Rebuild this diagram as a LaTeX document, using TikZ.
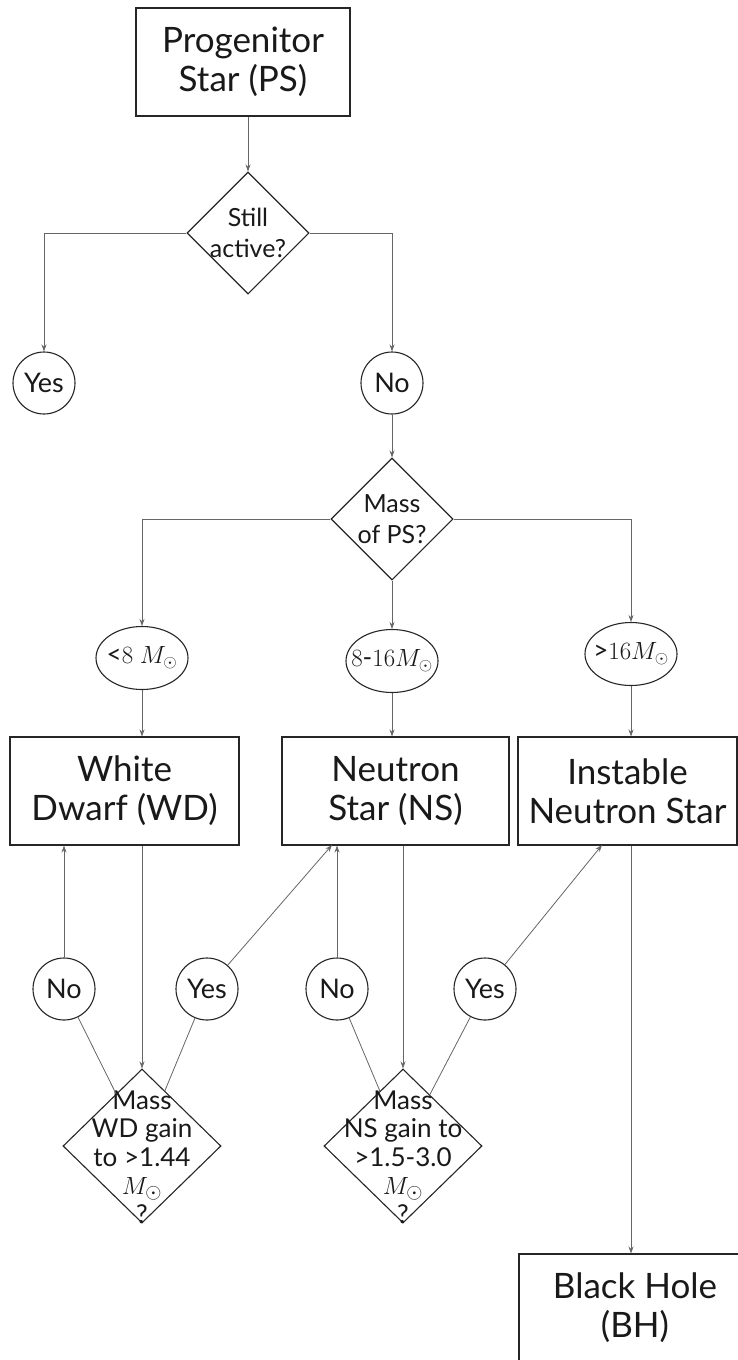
\documentclass[tikz,border=0pt]{standalone}
\usepackage{fontspec}
\setmainfont{Lato}
\usetikzlibrary{shapes.geometric,arrows.meta}
\newcommand{\bigmsun}{{\fontsize{29}{28.5}\selectfont$M_\odot$}}
\begin{document}
\begin{tikzpicture}[x=1pt,y=-1pt,
  every node/.style={text=black!90},
  box/.style={draw=black!85, line width=1.1pt, rectangle, inner sep=0pt, font=\fontsize{35}{39}\selectfont, align=center},
  dia/.style={draw=black!85, line width=1.1pt, diamond, inner sep=0pt},
  circ/.style={draw=black!85, line width=1.1pt, circle, minimum size=62pt, inner sep=0pt, font=\fontsize{27}{30}\selectfont},
  ell/.style={draw=black!85, line width=1.1pt, ellipse, minimum width=92pt, minimum height=63pt, inner sep=0pt},
  etxt/.style={inner sep=0pt, font=\fontsize{26}{30}\selectfont},
  lbl/.style={align=center, inner sep=0pt, font=\fontsize{25}{31}\selectfont},
  qlbl/.style={align=center, inner sep=0pt, font=\fontsize{26}{28.5}\selectfont},
  conn/.style={draw=black!60, line width=0.8pt},
  arr/.style={conn, -{Stealth[length=7pt,width=5pt]}}
]
\clip (0,0) rectangle (738,1360);
\fill[white] (0,0) rectangle (738,1360);
% nodes
\node[box, minimum width=214pt, minimum height=108pt] (ps) at (243,62) {Progenitor\\Star (PS)};
\node[dia, minimum width=122pt, minimum height=122pt] (act) at (248,233) {};
\node[lbl] (actT) at (248,233) {Still\\active?};
\node[circ] (yes1) at (44,383) {Yes};
\node[circ] (no1) at (392,383) {No};
\node[dia, minimum width=122pt, minimum height=122pt] (mass) at (392,519) {};
\node[lbl] (massT) at (392,519) {Mass\\of PS?};
\node[ell] (lt8) at (142,658) {};
\node[etxt] (lt8T) at (142,658) {<$8\ M_\odot$};
\node[ell] (mid) at (392,661) {};
\node[etxt] (midT) at (392,661) {$8$-$16M_\odot$};
\node[ell] (gt16) at (631,654) {};
\node[etxt] (gt16T) at (631,654) {>$16M_\odot$};
\node[box, minimum width=229pt, minimum height=108pt] (wd) at (124.5,791) {White\\Dwarf (WD)};
\node[box, minimum width=227pt, minimum height=108pt] (ns) at (395.5,791) {Neutron\\Star (NS)};
\node[box, minimum width=219pt, minimum height=108pt] (ins) at (627.5,791) {Instable\\Neutron Star};
\node[circ] (no2) at (64,989) {No};
\node[circ] (yes2) at (207,989) {Yes};
\node[circ] (no3) at (337,989) {No};
\node[circ] (yes3) at (485,989) {Yes};
\node[dia, minimum width=158pt, minimum height=154pt] (wdq) at (142,1146) {};
\node[qlbl] (wdqT) at (142,1157) {Mass\\WD gain\\to >1.44\\\bigmsun\\?};
\node[dia, minimum width=158pt, minimum height=154pt] (nsq) at (403,1146) {};
\node[qlbl] (nsqT) at (403,1157) {Mass\\NS gain to\\>1.5-3.0\\\bigmsun\\?};
\node[box, minimum width=232pt, minimum height=108pt] (bh) at (635,1308) {Black Hole\\(BH)};
\coordinate (nsA) at (332,845);
\coordinate (insA) at (602,845);
% connectors
\draw[arr] (ps.south -| act.north) -- (act.north);
\draw[arr] (act.west) -| (yes1.north);
\draw[arr] (act.east) -| (no1.north);
\draw[arr] (no1) -- (mass);
\draw[arr] (mass.west) -| (lt8.north);
\draw[arr] (mass.east) -| (gt16.north);
\draw[arr] (mass) -- (mid);
\draw[arr] (lt8) -- (lt8 |- wd.north);
\draw[arr] (mid) -- (mid |- ns.north);
\draw[arr] (gt16) -- (gt16 |- ins.north);
\draw[arr] (no2) -- (no2 |- wd.south);
\draw[arr] (wdq.north |- wd.south) -- (wdq.north);
\draw[arr] (yes2) -- (nsA);
\draw[arr] (no3) -- (no3 |- ns.south);
\draw[arr] (ns.south -| nsq.north) -- (nsq.north);
\draw[arr] (yes3) -- (insA);
\draw[arr] (gt16 |- ins.south) -- (gt16 |- bh.north);
\draw[conn] (no2) -- (wdq);
\draw[conn] (yes2) -- (wdq);
\draw[conn] (no3) -- (nsq);
\draw[conn] (yes3) -- (nsq);
\end{tikzpicture}
\end{document}
